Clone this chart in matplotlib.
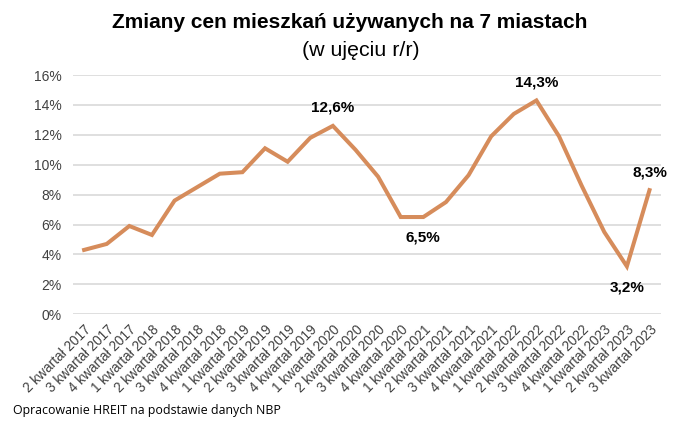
import matplotlib
matplotlib.use("Agg")
import matplotlib.pyplot as plt
from matplotlib.ticker import FuncFormatter

plt.rcParams['font.family'] = ['Liberation Sans', 'DejaVu Sans']

quarters = [
    "2 kwartał 2017", "3 kwartał 2017", "4 kwartał 2017",
    "1 kwartał 2018", "2 kwartał 2018", "3 kwartał 2018", "4 kwartał 2018",
    "1 kwartał 2019", "2 kwartał 2019", "3 kwartał 2019", "4 kwartał 2019",
    "1 kwartał 2020", "2 kwartał 2020", "3 kwartał 2020", "4 kwartał 2020",
    "1 kwartał 2021", "2 kwartał 2021", "3 kwartał 2021", "4 kwartał 2021",
    "1 kwartał 2022", "2 kwartał 2022", "3 kwartał 2022", "4 kwartał 2022",
    "1 kwartał 2023", "2 kwartał 2023", "3 kwartał 2023",
]
change_pct = [4.3, 4.7, 5.9, 5.3, 7.6, 8.5, 9.4, 9.5, 11.1, 10.2, 11.8, 12.6, 11.0,
              9.2, 6.5, 6.5, 7.5, 9.3, 11.9, 13.4, 14.3, 11.9, 8.6, 5.5, 3.2, 8.3]

# labelled points: (index, above?)
labelled = [(11, True), (15, False), (20, True), (24, False), (25, True)]

fig = plt.figure(figsize=(7, 4.24), dpi=100)
ax = fig.add_axes([0.104, 0.259, 0.84, 0.564])

x = list(range(len(quarters)))
ax.plot(x, change_pct, color="#D68C5B", linewidth=2.9, solid_joinstyle="miter", zorder=3)

for i, above in labelled:
    txt = f"{change_pct[i]:.1f}%".replace(".", ",")
    ax.annotate(txt, (i, change_pct[i]), xytext=(0, 13 if above else -15),
                textcoords="offset points", ha="center", va="center",
                fontsize=11, fontweight="bold", color="#000000")

ax.set_ylim(0, 16)
ax.set_xlim(-0.5, len(quarters) - 0.5)
ax.set_yticks(range(0, 17, 2))
ax.yaxis.set_major_formatter(FuncFormatter(lambda v, p: f"{v:.0f}%"))
ax.grid(axis="y", color="#D9D9D9", linewidth=1.2)
ax.set_axisbelow(True)
for s in ax.spines.values():
    s.set_visible(False)
ax.tick_params(axis="both", length=0, colors="#404040", labelsize=10)
ax.tick_params(axis="y", pad=8)
ax.tick_params(axis="x", pad=6)
ax.set_xticks(x)
ax.set_xticklabels(quarters, rotation=45, ha="right", rotation_mode="anchor", fontsize=9.8)

fig.text(0.50, 0.948, "Zmiany cen mieszkań używanych na 7 miastach",
         ha="center", va="center", fontsize=15, fontweight="bold")
fig.text(0.516, 0.882, "(w ujęciu r/r)", ha="center", va="center", fontsize=15.4)
fig.text(0.019, 0.033, "Opracowanie HREIT na podstawie danych NBP",
         ha="left", va="center", fontsize=8.9, family=["Open Sans", "DejaVu Sans"])

fig.savefig("out.png", dpi=100, facecolor="white")
